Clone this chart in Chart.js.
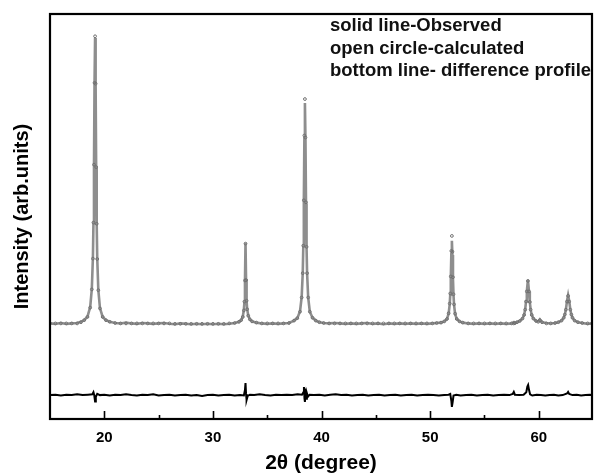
<!DOCTYPE html>
<html>
<head>
<meta charset="utf-8">
<script src="https://cdn.jsdelivr.net/npm/chart.js@4.4.1/dist/chart.umd.min.js"></script>
<style>
html,body{margin:0;padding:0;background:#fff;}
canvas{display:block;}
</style>
</head>
<body>
<canvas id="c" width="597" height="474"></canvas>
<script>
// ---- data ----
const twoTheta = [
  15.0,15.5,16.0,16.5,17.0,17.5,17.85,
  18.15,18.45,18.7,18.85,18.95,19.0,19.05,19.1,19.15,19.2,19.25,19.3,19.35,19.45,19.6,19.85,20.15,20.5,
  21.0,21.5,22.0,22.5,23.0,23.5,24.0,24.5,25.0,25.5,26.0,26.5,27.0,27.5,28.0,28.5,29.0,29.5,30.0,30.5,31.0,31.5,32.0,
  32.4,32.6,32.75,32.85,32.9,32.95,33.0,33.05,33.1,33.15,33.25,33.4,33.6,34.0,
  34.5,35.0,35.5,36.0,36.5,37.0,
  37.47,37.77,38.02,38.17,38.27,38.32,38.37,38.42,38.47,38.52,38.57,38.62,38.67,38.77,38.92,39.17,39.47,
  39.8,40.2,40.7,41.2,41.7,42.2,42.7,43.2,43.7,44.2,44.7,45.2,45.7,46.2,46.7,47.2,47.7,48.2,48.7,49.2,49.7,50.2,50.6,
  51.0,51.3,51.55,51.7,51.8,51.85,51.9,51.95,52.0,52.05,52.1,52.15,52.2,52.3,52.45,52.7,53.0,
  53.5,54.0,54.5,55.0,55.5,56.0,56.5,57.0,57.5,57.7,57.8,
  58.0,58.25,58.5,58.65,58.75,58.825,58.9,59.0,59.1,59.175,59.25,59.35,59.5,59.75,59.95,60.1,60.3,
  60.7,61.1,61.5,
  61.8,62.1,62.3,62.4,62.5,62.6,62.7,62.8,62.9,63.0,63.1,63.3,63.6,
  64.0,64.5,64.9
];
const observed = [
  236,235,237,235,236,237,240,
  244,253,276,321,398,483,624,828,941,825,620,480,396,318,274,252,244,240,
  237,236,238,236,235,237,236,235,236,237,235,234,236,235,234,235,234,235,234,235,234,235,237,
  240,244,253,270,288,340,435,345,292,272,256,246,241,238,
  236,235,236,235,236,237,
  243,249,266,301,361,426,535,693,780,690,532,424,360,300,265,250,243,
  239,237,236,237,236,235,236,235,236,237,235,236,234,236,235,236,235,236,235,236,235,236,237,
  238,241,247,260,283,307,348,407,440,405,346,306,282,259,247,241,238,
  236,235,236,235,236,235,236,235,236,239,236,
  239,242,248,257,271,290,316,343,315,289,270,257,248,242,241,246,239,
  237,236,237,
  239,243,250,258,271,292,306,292,271,258,250,243,239,
  237,235,236
];
const calculated = [
  236,236,236,236,236,236,239,
  244,252,275,320,396,485,628,830,945,828,622,482,395,318,273,252,244,240,
  237,236,236,236,236,236,236,236,236,236,236,235,235,235,235,235,235,235,235,235,235,236,237,
  240,244,252,268,290,342,433,343,292,271,255,246,241,238,
  236,236,236,236,236,237,
  243,249,265,300,360,428,540,700,790,695,535,425,360,300,265,250,243,
  239,237,236,236,236,236,236,236,236,236,236,236,236,236,236,236,236,236,236,236,236,236,237,
  238,241,247,261,285,310,352,415,452,413,350,308,283,260,247,241,238,
  236,236,236,236,236,236,236,236,236,236,237,
  239,242,248,257,270,290,315,341,315,289,270,257,248,242,240,244,239,
  236,236,237,
  239,243,250,258,270,290,304,290,270,258,250,243,239,
  237,236,236
];
const diffTheta = [
  15.0,15.5,16.0,16.5,17.0,17.5,18.0,18.5,18.9,19.0,19.08,19.15,19.22,19.35,19.6,20.0,20.5,
  21.0,21.5,22.0,22.5,23.0,23.5,24.0,24.5,25.0,25.5,26.0,26.5,27.0,27.5,28.0,28.5,29.0,29.5,30.0,30.5,31.0,31.5,32.0,32.5,
  32.85,32.95,33.0,33.05,33.1,33.2,33.4,33.8,34.3,34.8,35.3,35.8,36.3,36.8,37.3,37.8,38.2,
  38.33,38.38,38.43,38.47,38.52,38.58,38.65,38.75,38.9,39.3,39.8,40.3,40.8,41.3,41.8,42.3,42.8,43.3,43.8,44.3,44.8,45.3,45.8,46.3,46.8,47.3,47.8,48.3,48.8,49.3,49.8,50.3,50.8,51.3,51.7,
  51.85,51.95,52.0,52.07,52.15,52.4,52.8,53.3,53.8,54.3,54.8,55.3,55.8,56.3,56.8,57.3,57.6,57.7,57.8,58.2,58.6,
  58.85,58.95,59.02,59.1,59.2,59.4,59.8,60.2,60.6,61.0,61.4,61.8,62.2,62.6,62.7,62.8,63.1,63.5,63.9,64.3,64.7,64.9
];
const difference = [
  59,60,58,60,59,61,59,60,61,66,58,43,55,62,59,60,58,
  60,59,61,59,58,60,59,61,58,59,60,58,59,60,58,59,57,59,60,58,59,60,58,59,
  58,72,89,62,47,57,60,59,61,59,58,60,59,60,59,61,60,
  66,79,50,42,75,50,64,55,60,59,60,58,60,61,59,60,58,59,60,58,59,60,58,59,60,58,59,60,58,59,60,59,58,59,60,
  62,45,30,42,58,60,58,59,60,58,59,60,58,59,60,59,62,67,60,59,60,
  66,80,84,72,61,58,60,59,58,59,60,58,59,63,67,62,59,60,58,59,60,59
];
const majorTicks = [20, 30, 40, 50, 60];
const minorTicks = [25, 35, 45, 55];
const noteLines = ['solid line-Observed', 'open circle-calculated', 'bottom line- difference profile'];

const FONT = "'Liberation Sans', Arial, sans-serif";

const framePlugin = {
  id: 'frame',
  afterDatasetsDraw(chart) {
    const {ctx, chartArea: a, scales: {x}} = chart;
    ctx.save();
    ctx.strokeStyle = '#000';
    ctx.lineWidth = 1.6;
    ctx.beginPath();
    majorTicks.forEach(v => { const px = Math.round(x.getPixelForValue(v)) + 0.5; ctx.moveTo(px, a.bottom); ctx.lineTo(px, a.bottom - 8); });
    minorTicks.forEach(v => { const px = Math.round(x.getPixelForValue(v)) + 0.5; ctx.moveTo(px, a.bottom); ctx.lineTo(px, a.bottom - 4); });
    ctx.stroke();
    ctx.lineWidth = 2.2;
    ctx.strokeRect(a.left, a.top, a.right - a.left, a.bottom - a.top);
    // annotation text
    ctx.fillStyle = '#111';
    ctx.font = "bold 18.5px " + FONT;
    ctx.textBaseline = 'middle';
    ctx.textAlign = 'left';
    noteLines.forEach((t, i) => ctx.fillText(t, a.left + 280, a.top + 12 + i * 22.5));
    ctx.restore();
  }
};

new Chart(document.getElementById('c'), {
  type: 'line',
  data: {
    datasets: [
      {
        label: 'calculated',
        data: twoTheta.map((t, i) => ({x: t, y: calculated[i]})),
        showLine: false,
        pointRadius: 1.4,
        pointBorderWidth: 1,
        pointBorderColor: '#707070',
        pointBackgroundColor: 'rgba(255,255,255,0)',
        order: 1
      },
      {
        label: 'observed',
        data: twoTheta.map((t, i) => ({x: t, y: observed[i]})),
        borderColor: '#8e8e8e',
        borderWidth: 2.6,
        pointRadius: 0,
        tension: 0,
        order: 2
      },
      {
        label: 'difference',
        data: diffTheta.map((t, i) => ({x: t, y: difference[i]})),
        borderColor: '#000',
        borderWidth: 2,
        pointRadius: 0,
        tension: 0,
        order: 0
      }
    ]
  },
  options: {
    responsive: false,
    animation: false,
    devicePixelRatio: 1,
    layout: {padding: {top: 14, right: 1.5, left: 0, bottom: 0}},
    plugins: {legend: {display: false}, tooltip: {enabled: false}},
    scales: {
      x: {
        type: 'linear',
        min: 15, max: 64.9,
        afterBuildTicks: s => { s.ticks = majorTicks.map(v => ({value: v})); },
        afterFit: s => { s.height = 55; },
        grid: {display: false, drawTicks: false},
        border: {display: false},
        ticks: {color: '#000', padding: 10, font: {family: FONT, size: 15, weight: 'bold'}, maxRotation: 0},
        title: {display: true, text: '2θ (degree)', color: '#000', padding: {top: 0, bottom: 0}, font: {family: FONT, size: 21, weight: 'bold', lineHeight: 1}}
      },
      y: {
        min: 0, max: 1000,
        afterFit: s => { s.width = 50; },
        grid: {display: false, drawTicks: false},
        border: {display: false},
        ticks: {display: false},
        title: {display: true, text: 'Intensity (arb.units)', color: '#000', padding: {top: 12, bottom: 0}, font: {family: FONT, size: 20, weight: 'bold', lineHeight: 1}}
      }
    }
  },
  plugins: [framePlugin]
});
</script>
</body>
</html>
